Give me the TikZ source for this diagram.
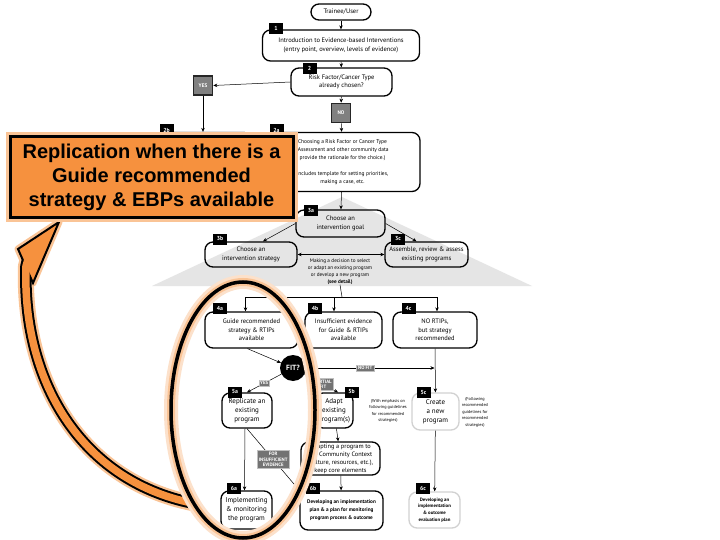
\documentclass[tikz,border=0pt]{standalone}
\usepackage{fontspec}
\setmainfont{PT Sans}
\newfontfamily\calloutfont{Liberation Sans}
\usetikzlibrary{arrows.meta,positioning,calc,shapes.geometric}

\definecolor{callout}{RGB}{246,145,62}
\definecolor{glow}{RGB}{250,196,150}

\begin{document}
\begin{tikzpicture}[x=1pt, y=-1pt,
  box/.style={rounded corners=8pt, draw, line width=1.3pt, align=center,
              inner sep=1pt, font=\fontsize{6.5}{8.5}\selectfont},
  pale/.style={box, draw=black!18},
  bigtext/.style={font=\fontsize{7}{8.8}\selectfont},
  tag/.style={fill=black, text=white, inner sep=0pt, minimum width=14pt,
              minimum height=11pt, font=\fontsize{5.8}{6}\selectfont\bfseries},
  flag/.style={fill=black!50, draw=black!85, line width=1.6pt, text=white,
               inner sep=0pt, minimum size=19pt, font=\fontsize{5.2}{6}\selectfont\bfseries},
  lbl/.style={fill=black!55, draw=black!25, line width=0.4pt, text=white, inner sep=1.5pt,
              align=center, font=\fontsize{4.8}{5.6}\selectfont\bfseries},
  note/.style={inner sep=0pt, align=center, font=\fontsize{4.3}{6.5}\selectfont},
  arr/.style={-{Stealth[length=4pt, width=3.5pt]}, line width=0.5pt}
]
  \fill[white] (0,0) rectangle (720,540);
  \useasboundingbox (0,0) rectangle (720,540);

  % grey backdrop behind step 3
  \fill[black!10] (342,197) -- (532,286) -- (152,286) -- cycle;

  % steps 1 and 2
  \node[box, minimum width=60pt, minimum height=16pt] (user) at (341,12) {Trainee/User};
  \node[box, minimum width=157pt, minimum height=31pt] (s1) at (341,45.5)
    {Introduction to Evidence-based Interventions\\(entry point, overview, levels of evidence)};
  \node[box, minimum width=101pt, minimum height=28pt] (s2) at (341.5,82)
    {Risk Factor/Cancer Type\\already chosen?};
  \node[flag] (yes) at (203,85.5) {YES};
  \node[flag] (no) at (341,113) {NO};
  \node[box, minimum width=98pt, minimum height=58pt] (s2b) at (203,161.5) {};
  \node[box, minimum width=155pt, minimum height=59pt, font=\fontsize{5.5}{8}\selectfont] (s2a) at (342.5,162)
    {Choosing a Risk Factor or Cancer Type\\(Assessment and other community data\\provide the rationale for the choice.)\\[8pt]Includes template for setting priorities,\\making a case, etc.};

  % step 3
  \node[box, minimum width=89pt, minimum height=27pt] (s3a) at (340.5,223.5) {Choose an\\intervention goal};
  \node[box, minimum width=92pt, minimum height=25pt] (s3b) at (251,254.5) {Choose an\\intervention strategy};
  \node[box, minimum width=83pt, minimum height=25pt] (s3c) at (426.5,254.5) {Assemble, review \& assess\\existing programs};
  \node[note, font=\fontsize{5.2}{7}\selectfont] (choice) at (340,271.5)
    {Making a decision to select\\or adapt an existing program\\or develop a new program\\\textbf{(see detail)}};
  \coordinate (hub) at (342,297);

  % step 4
  \node[box, minimum width=93pt, minimum height=36pt] (s4a) at (251.5,330) {Guide recommended\\strategy \& RTIPs\\available};
  \node[box, minimum width=77pt, minimum height=36pt] (s4b) at (343.5,330) {Insufficient evidence\\for Guide \& RTIPs\\available};
  \node[box, minimum width=84pt, minimum height=36pt] (s4c) at (435,330) {NO RTIPs,\\but strategy\\recommended};
  \node[circle, fill=black, text=white, minimum size=26pt, inner sep=0pt,
        font=\fontsize{7.5}{8}\selectfont\bfseries] (fitq) at (293,368) {FIT?};

  % step 5
  \node[box, bigtext, minimum width=50pt, minimum height=35pt] (s5a) at (247,410.5) {Replicate an\\existing\\program};
  \node[box, bigtext, minimum width=38pt, minimum height=35pt] (s5b) at (334,410.5) {Adapt\\existing\\program(s)};
  \node[pale, bigtext, minimum width=47pt, minimum height=37pt] (s5c) at (435.5,411.5) {Create\\a new\\program};
  \node[note] (n5b) at (388,411) {(With emphasis on\\following guidelines\\for recommended\\strategies)};
  \node[note] (n5c) at (475,412) {(Following\\recommended\\guidelines for\\recommended\\strategies)};
  \node[box, minimum width=79pt, minimum height=33pt, font=\fontsize{6.3}{8}\selectfont] (adapt) at (340.5,458.5)
    {Adapting a program to\\the Community Context\\(culture, resources, etc.),\\keep core elements};

  % step 6
  \node[box, bigtext, minimum width=51pt, minimum height=38pt] (s6a) at (246.5,510) {Implementing\\\& monitoring\\the program};
  \node[box, minimum width=83pt, minimum height=39pt, font=\fontsize{5.2}{8}\selectfont\bfseries] (s6b) at (341.5,510.5)
    {Developing an implementation\\plan \& a plan for monitoring\\program process \& outcome};
  \node[pale, minimum width=51pt, minimum height=36pt, font=\fontsize{4.8}{6.6}\selectfont\bfseries] (s6c) at (434.5,510)
    {Developing an\\implementation\\\& outcome\\evaluation plan};

  % step numbers
  \node[tag] (t1) at (276,28.5) {1};
  \node[tag] (t2) at (309.5,68.5) {2};
  \node[tag] (t2b) at (166.5,130) {2b};
  \node[tag] (t2a) at (276.5,130) {2a};
  \node[tag] (t3a) at (311,210.5) {3a};
  \node[tag] (t3b) at (220,239) {3b};
  \node[tag] (t3c) at (398,239) {3c};
  \node[tag] (t4a) at (220,308.5) {4a};
  \node[tag] (t4b) at (315,308.5) {4b};
  \node[tag] (t4c) at (408.5,308.5) {4c};
  \node[tag] (t5a) at (235,392) {5a};
  \node[tag] (t5b) at (351.5,392) {5b};
  \node[tag] (t5c) at (423.5,392.5) {5c};
  \node[tag] (t6a) at (234,488.5) {6a};
  \node[tag] (t6b) at (313,488.5) {6b};
  \node[tag] (t6c) at (423,488.5) {6c};

  % connectors
  \draw[arr] (user) -- (s1);
  \draw[arr] (s1) -- (s2);
  \draw[arr] (s2.west) -- (yes.east);
  \draw[arr] (yes.south) -- (s2b.north);
  \draw[arr] (s2) -- (no);
  \draw[arr] (no) -- (s2a);
  \draw[arr] (s2a) -- (s3a);
  \draw[arr] (s3a.west) -- ([xshift=12pt]s3b.north);
  \draw[arr] (s3a.east) -- ([xshift=-10pt]s3c.north);
  \draw[{Stealth[length=4pt, width=3.5pt]}-{Stealth[length=4pt, width=3.5pt]}, line width=0.5pt] (s3b.east) -- (s3c.west);
  \draw[line width=0.5pt] (choice.south) -- (hub);
  \draw[arr] (hub) -| ([xshift=-6pt]s4a.north);
  \draw[arr] (hub) -| ([xshift=-9.5pt]s4b.north);
  \draw[arr] (hub) -| ([xshift=2pt]s4c.north);
  \draw[arr] ([xshift=-4pt]s4a.south) -- (fitq);
  \draw[arr] ([xshift=-30pt]s4b.south) -- (fitq);
  \draw[arr] (s4c) -- (s5c);
  \draw[arr] (fitq) -- ([xshift=-1pt]fitq -| s5c.north) node[lbl, pos=0.46] {NO FIT};
  \draw[arr] (fitq) -- (s5a.north) node[lbl, midway] {YES};
  \draw[arr] (fitq) -- ([xshift=4pt]s5b.north) node[lbl, pos=0.55] {PARTIAL\\FIT};
  \draw[arr] ([xshift=-2pt]s5a.south) -- ([xshift=-2pt]s6a.north);
  \draw[arr] (s5a.south) -- (s6b.north west) node[lbl, midway] {FOR\\INSUFFICIENT\\EVIDENCE};
  \draw[arr] (s5b) -- (adapt);
  \draw[arr] (adapt) -- (s6b);
  \draw[arr] (s5c) -- (s6c);

  % big orange arrow back to the callout
  \coordinate (tail) at (192,503);
  \draw[glow, line width=16pt] (28,258) -- (26,266) .. controls (22,380) and (80,480) .. (tail);
  \draw[glow, line width=7pt, line join=round] (59,222) -- (18,249) -- (33,283) -- cycle;
  \draw[line width=11.5pt] (28,258) -- (26,266) .. controls (22,380) and (80,480) .. (tail);
  \filldraw[fill=callout, line width=2pt] (59,222) -- (18,249) -- (33,283) -- cycle;
  \draw[callout, line width=7.5pt] (29,256) -- (26,266) .. controls (22,380) and (80,480) .. (tail);

  % circled column
  \node[ellipse, draw, line width=3.5pt, minimum width=144pt, minimum height=256pt, inner sep=0pt,
        preaction={draw=glow!50, line width=14pt}, preaction={draw=glow, line width=8pt}] (focus) at (243,410) {};

  % callout
  \node[draw, line width=3pt, fill=callout, minimum width=283pt, minimum height=81pt, inner sep=0pt,
        align=center, font=\calloutfont\bfseries\fontsize{20}{24}\selectfont,
        preaction={draw=glow, line width=9pt}] (call) at (151.5,177.5)
    {Replication when there is a\\Guide recommended\\strategy \& EBPs available};
\end{tikzpicture}
\end{document}
